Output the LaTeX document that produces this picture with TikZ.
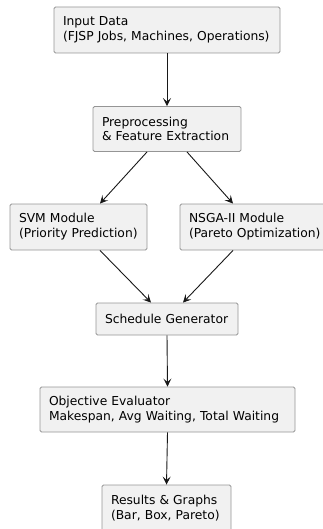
\documentclass[tikz,border=0pt]{standalone}
\usepackage{fontspec}
\setmainfont{DejaVu Sans}
\usetikzlibrary{arrows.meta,calc}
\definecolor{boxfill}{HTML}{F1F1F1}
\definecolor{boxline}{HTML}{959595}
\definecolor{arrowc}{HTML}{181818}
\begin{document}
\begin{tikzpicture}[x=1pt,y=-1pt,
  stepbox/.style={draw=boxline,fill=boxfill,line width=0.9pt,rounded corners=1.5pt,
    inner xsep=9pt,inner ysep=0pt,align=left,anchor=center,
    font=\fontsize{12.3}{14.8}\selectfont},
  conn/.style={draw=arrowc,line width=0.9pt,-{Stealth[length=8pt,width=8pt,inset=3.5pt]}}]
\useasboundingbox (0,0) rectangle (323,529);
\node[stepbox,minimum width=226pt,minimum height=46pt,text width=208pt] (in) at (167,30) {Input Data\\(FJSP Jobs, Machines, Operations)};
\node[stepbox,minimum width=148pt,minimum height=45pt,text width=130pt] (pre) at (167,129) {Preprocessing\\\& Feature Extraction};
\node[stepbox,minimum width=137pt,minimum height=46pt,text width=119pt] (svm) at (78.5,227) {SVM Module\\(Priority Prediction)};
\node[stepbox,minimum width=156pt,minimum height=46pt,text width=138pt] (nsga) at (258,227) {NSGA-II Module\\(Pareto Optimization)};
\node[stepbox,minimum width=142pt,minimum height=32pt,text width=124pt] (sched) at (167,319) {Schedule Generator};
\node[stepbox,minimum width=255pt,minimum height=45pt,text width=237pt] (obj) at (167.5,409.5) {Objective Evaluator\\Makespan, Avg Waiting, Total Waiting};
\node[stepbox,minimum width=129pt,minimum height=46pt,text width=111pt] (res) at (166.5,508) {Results \& Graphs\\(Bar, Box, Pareto)};
\draw[conn] (in.south) -- (pre.north);
\draw[conn] ($(pre.south)+(-20,0)$) -- ($(svm.north)+(21.5,0)$);
\draw[conn] ($(pre.south)+(20,0)$) -- ($(nsga.north)+(-25,0)$);
\draw[conn] ($(svm.south)+(21.5,0)$) -- ($(sched.north)+(-16,0)$);
\draw[conn] ($(nsga.south)+(-25,0)$) -- ($(sched.north)+(16,0)$);
\draw[conn] (sched.south) -- (obj.north);
\draw[conn] (obj.south) -- (res.north);
\end{tikzpicture}
\end{document}
